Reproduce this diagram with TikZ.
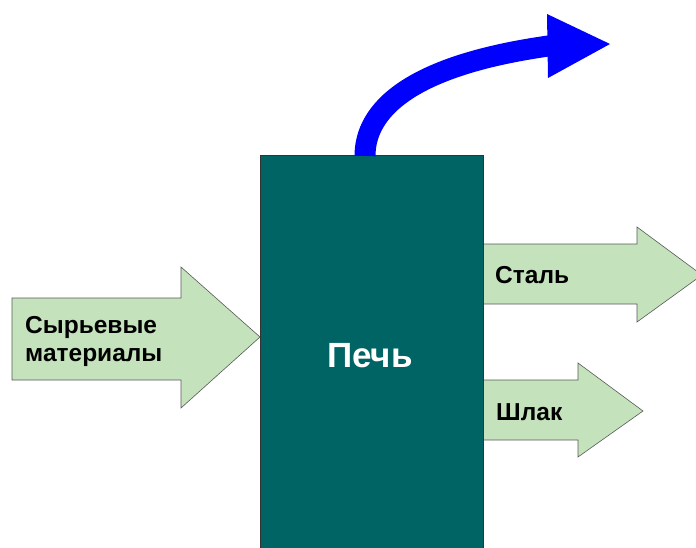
\documentclass[tikz,border=0pt]{standalone}
\usepackage{fontspec}
\setmainfont{Liberation Sans}
\begin{document}
\begin{tikzpicture}[x=1pt,y=-1pt,
  flow/.style={fill=flowgreen,draw=gray!70!black,line width=0.6pt},
  lbl/.style={font=\bfseries\fontsize{24.5}{28}\selectfont,inner sep=0pt,anchor=base west},
  furnace/.style={rectangle,fill=furnacegreen,draw=black!80,line width=0.8pt,minimum width=223pt,minimum height=405pt,inner sep=0pt}]
\definecolor{flowgreen}{HTML}{C4E3BC}
\definecolor{furnacegreen}{HTML}{006464}
\definecolor{gasblue}{HTML}{0000FF}
\useasboundingbox (0,0) rectangle (696,548);
\begin{scope}
\clip (0,0) rectangle (696,548);
% input arrow
\draw[flow] (12,298) -- (181,298) -- (181,267) -- (260,337) -- (181,408) -- (181,380) -- (12,380) -- cycle;
% steel arrow
\draw[flow] (483,244) -- (637,244) -- (637,227) -- (702,275) -- (637,322) -- (637,304) -- (483,304) -- cycle;
% slag arrow
\draw[flow] (483,380) -- (578,380) -- (578,363) -- (643,411) -- (578,457) -- (578,440) -- (483,440) -- cycle;
% furnace
\node[furnace] (furnace) at (371.5,357.5) {};
\node[text=white,font=\bfseries\fontsize{35}{40}\selectfont,inner sep=0pt,anchor=base] (pech) at (370,367) {Печь};
% gas arrow
\coordinate (gasstart) at (365,156);
\coordinate (gasend) at (552,45.5);
\draw[gasblue,line width=21pt] (gasstart) .. controls (365,110) and (410,65) .. (gasend);
\fill[gasblue] (547,14) -- (610,44) -- (548,78) -- cycle;
\end{scope}
\node[lbl] (raw1) at (25,333) {Сырьевые};
\node[lbl] (raw2) at (25,361) {материалы};
\node[lbl] (steel) at (495,283) {Сталь};
\node[lbl] (slag) at (496,420) {Шлак};
\end{tikzpicture}
\end{document}
